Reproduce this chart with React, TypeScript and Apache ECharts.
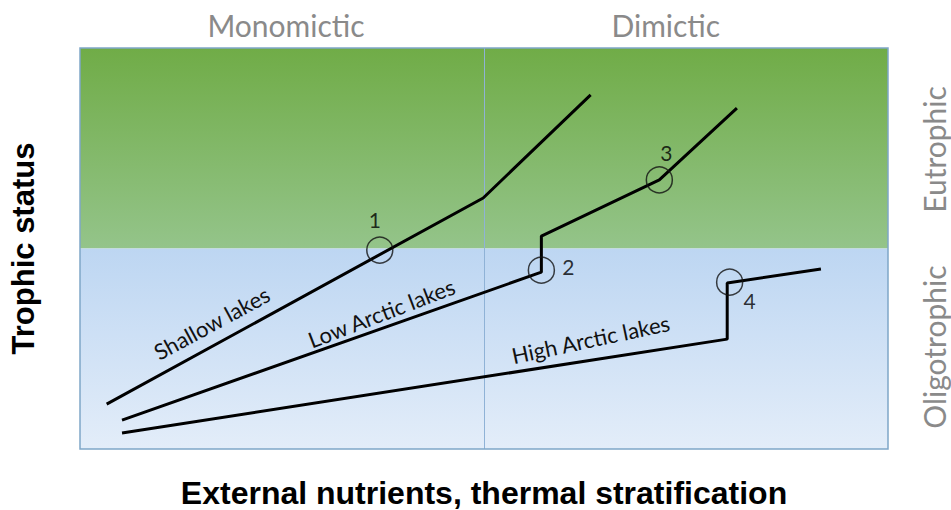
import React, { useEffect, useRef } from "react";
import * as echarts from "echarts";

// ---- data (x: external nutrients / stratification, y: trophic status; both 0..100) ----
const shallowLakes: number[][] = [[3.3, 11.2], [49.9, 62.6], [63.2, 88.3]];
const lowArcticLakes: number[][] = [[5.2, 7.2], [57.1, 44.1], [57.1, 53.1], [71.7, 67.1], [81.3, 85.0]];
const highArcticLakes: number[][] = [[5.2, 4.0], [80.1, 27.4], [80.1, 41.4], [91.7, 44.9]];
const thresholdPoints: number[][] = [[37.1, 49.6], [57.1, 44.6], [71.7, 67.1], [80.4, 41.6]];
const thresholdNames = ["1", "2", "3", "4"];
const seriesNames = ["Shallow lakes", "Low Arctic lakes", "High Arctic lakes"];
const topLabels = ["Monomictic", "Dimictic"];
const sideLabels = ["Eutrophic", "Oligotrophic"];
const xTitle = "External nutrients, thermal stratification";
const yTitle = "Trophic status";
const mixingBoundary = 50;
const trophicBoundary = 50;

// ---- layout ----
const W = 951;
const H = 510;
const G = { left: 80, top: 48, right: 63, bottom: 61 };
const gw = W - G.left - G.right;
const gh = H - G.top - G.bottom;
const px = (x: number) => G.left + (x / 100) * gw;
const py = (y: number) => G.top + (1 - y / 100) * gh;

const labelOffsets = [[-5, -31], [27, -4], [7, -27], [20, 18]];
const lineLabelPos = [
  { x: 16.3, y: 31.4, rot: 28.5 },
  { x: 37.3, y: 33.9, rot: 21 },
  { x: 63.2, y: 27.4, rot: 12 },
];

export default function App() {
  const ref = useRef<HTMLDivElement>(null);
  useEffect(() => {
    if (!ref.current) return;
    const chart = echarts.init(ref.current, null, { renderer: "svg" });
    const font = "Lato, 'Open Sans', sans-serif";
    const lineStyle = { color: "#000", width: 3 };
    const graphic: any[] = [
      {
        type: "rect",
        z: 100,
        shape: { x: G.left, y: G.top, width: gw, height: gh },
        style: { fill: "none", stroke: "#7fa6c8", lineWidth: 1.5 },
      },
      {
        type: "text",
        x: px(25.5),
        y: 25,
        style: { text: topLabels[0], fill: "#8a8a8a", font: `30px ${font}`, align: "center", verticalAlign: "middle" },
      },
      {
        type: "text",
        x: px(72.5),
        y: 25,
        style: { text: topLabels[1], fill: "#8a8a8a", font: `30px ${font}`, align: "center", verticalAlign: "middle" },
      },
      {
        type: "text",
        x: 934,
        y: py(74.7),
        rotation: Math.PI / 2,
        style: { text: sideLabels[0], fill: "#8a8a8a", font: `30px ${font}`, align: "center", verticalAlign: "middle" },
      },
      {
        type: "text",
        x: 934,
        y: py(25.4),
        rotation: Math.PI / 2,
        style: { text: sideLabels[1], fill: "#8a8a8a", font: `30px ${font}`, align: "center", verticalAlign: "middle" },
      },
      ...seriesNames.map((n, i) => ({
        type: "text",
        z: 50,
        x: px(lineLabelPos[i].x),
        y: py(lineLabelPos[i].y),
        rotation: (lineLabelPos[i].rot * Math.PI) / 180,
        style: { text: n, fill: "#111", font: `22px ${font}`, align: "center", verticalAlign: "middle" },
      })),
    ];

    chart.setOption({
      animation: false,
      backgroundColor: "#fff",
      grid: {
        left: G.left,
        top: G.top,
        right: G.right,
        bottom: G.bottom,
        containLabel: false,
        outerBoundsMode: "none",
      },
      xAxis: {
        type: "value",
        min: 0,
        max: 100,
        name: xTitle,
        nameLocation: "middle",
        nameGap: 28,
        nameTextStyle: {
          fontFamily: "'Liberation Sans', Arial, sans-serif",
          fontWeight: "bold",
          fontSize: 32,
          lineHeight: 32,
          color: "#000",
        },
        axisLine: { show: false },
        axisTick: { show: false },
        axisLabel: { show: false },
        splitLine: { show: false },
      },
      yAxis: {
        type: "value",
        min: 0,
        max: 100,
        name: yTitle,
        nameLocation: "middle",
        nameGap: 41,
        nameRotate: 90,
        nameTextStyle: {
          fontFamily: "'Liberation Sans', Arial, sans-serif",
          fontWeight: "bold",
          fontSize: 31,
          lineHeight: 31,
          color: "#000",
        },
        axisLine: { show: false },
        axisTick: { show: false },
        axisLabel: { show: false },
        splitLine: { show: false },
      },
      graphic,
      series: [
        {
          type: "line",
          name: seriesNames[0],
          data: shallowLakes,
          showSymbol: false,
          lineStyle,
          z: 5,
          markArea: {
            silent: true,
            z: 1,
            data: [
              [
                {
                  yAxis: trophicBoundary,
                  itemStyle: {
                    color: new echarts.graphic.LinearGradient(0, 0, 0, 1, [
                      { offset: 0, color: "#70ac47" },
                      { offset: 1, color: "#94c48a" },
                    ]),
                  },
                },
                { yAxis: 100 },
              ],
              [
                {
                  yAxis: 0,
                  itemStyle: {
                    color: new echarts.graphic.LinearGradient(0, 0, 0, 1, [
                      { offset: 0, color: "#bdd6f2" },
                      { offset: 1, color: "#e3edf9" },
                    ]),
                  },
                },
                { yAxis: trophicBoundary },
              ],
            ],
          },
          markLine: {
            silent: true,
            symbol: "none",
            label: { show: false },
            lineStyle: { color: "#8fb2d6", width: 1, type: "solid" },
            data: [{ xAxis: mixingBoundary }],
          },
        },
        { type: "line", name: seriesNames[1], data: lowArcticLakes, showSymbol: false, lineStyle, z: 5 },
        { type: "line", name: seriesNames[2], data: highArcticLakes, showSymbol: false, lineStyle, z: 5 },
        {
          type: "scatter",
          z: 6,
          symbol: "circle",
          symbolSize: 26,
          itemStyle: { color: "rgba(0,0,0,0)", borderColor: "#111", borderWidth: 1.5 },
          data: thresholdPoints.map((p, i) => ({
            value: p,
            name: thresholdNames[i],
            label: { offset: labelOffsets[i] },
          })),
          label: {
            show: true,
            position: "inside",
            formatter: (p: any) => p.name,
            color: "#000",
            fontSize: 21,
            fontFamily: font,
          },
        },
      ],
    });
    return () => chart.dispose();
  }, []);
  return <div ref={ref} style={{ position: "absolute", left: 0, top: 0, width: W, height: H }} />;
}
